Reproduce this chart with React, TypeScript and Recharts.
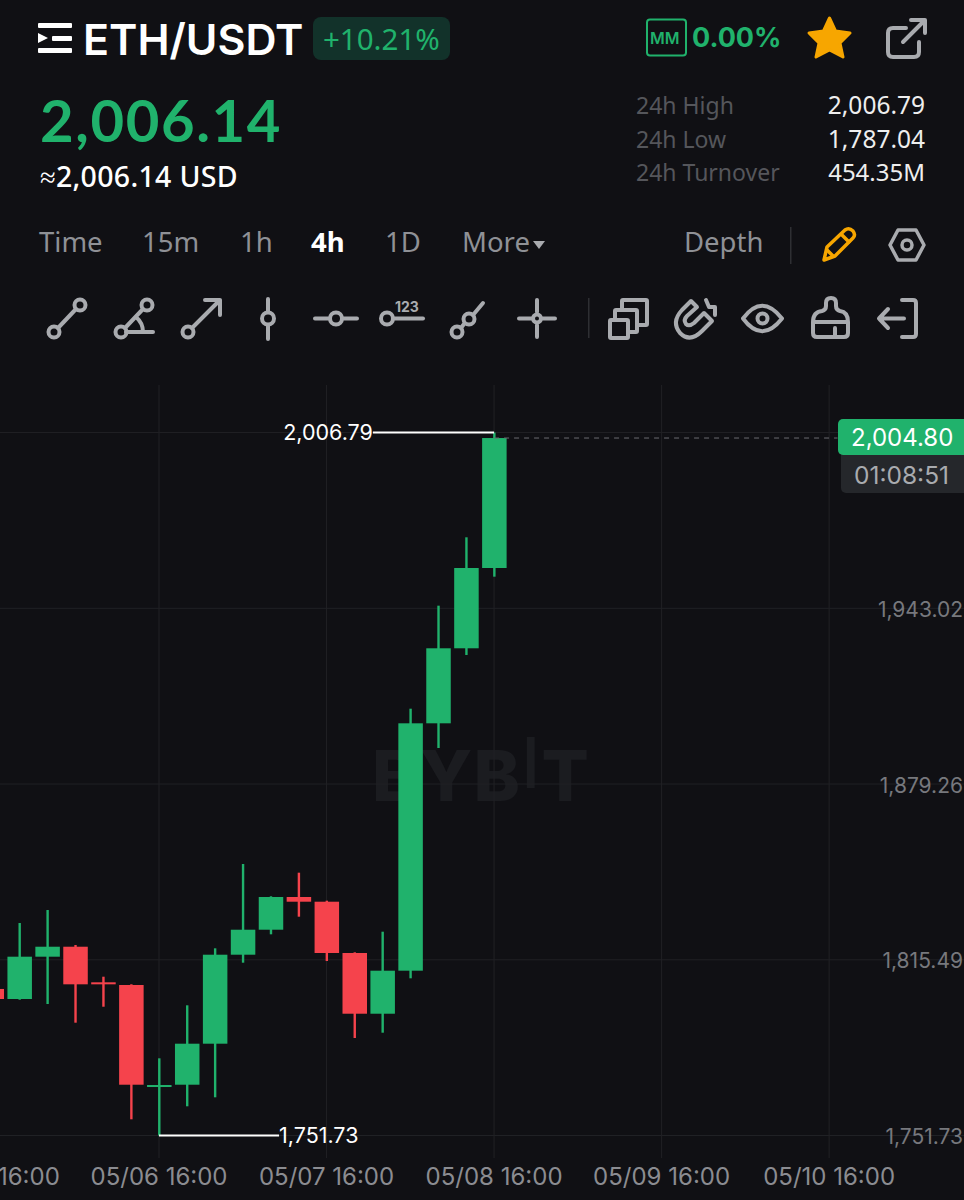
import { ComposedChart, Bar, XAxis, YAxis, CartesianGrid, ReferenceLine, ReferenceDot } from 'recharts';

// one candle every 4h, the first one is 05/05 16:00
const opens = [1804.9, 1801.26, 1816.61, 1820.23, 1807.32, 1806.34, 1769.33, 1770.16, 1785.04, 1817.33, 1826.4, 1838.27, 1836.56, 1817.95, 1795.92, 1811.53, 1901.29, 1928.51, 1957.64];
const closes = [1801.26, 1816.61, 1820.23, 1806.59, 1806.59, 1770.16, 1770.05, 1785.04, 1817.33, 1826.4, 1838.27, 1836.56, 1817.95, 1795.92, 1811.53, 1901.29, 1928.51, 1957.64, 2004.8];
const highs = [1806.2, 1828.83, 1833.55, 1820.85, 1809.35, 1806.6, 1779.74, 1798.97, 1819.65, 1850.24, 1838.53, 1847.09, 1836.93, 1818.2, 1825.68, 1906.59, 1943.97, 1968.78, 2006.79];
const lows = [1799.8, 1801.0, 1799.44, 1792.66, 1798.46, 1757.61, 1751.73, 1762.33, 1765.59, 1814.43, 1824.73, 1831.12, 1815.05, 1787.11, 1789.03, 1808.77, 1892.33, 1926.08, 1954.49];

const priceTicks = [1751.73, 1815.49, 1879.26, 1943.02, 2006.79];
const timeTicks = [0, 6, 12, 18, 24, 30];
const timeLabels = ['05/05 16:00', '05/06 16:00', '05/07 16:00', '05/08 16:00', '05/09 16:00', '05/10 16:00'];

const candles = opens.map((open, i) => ({
  i,
  open,
  close: closes[i],
  high: highs[i],
  low: lows[i],
  range: [lows[i], highs[i]],
}));

const BG = '#101014';
const GREEN = '#20b26c';
const RED = '#f5434c';
const ICON = '#a9abaf';
const GRID = '#202125';

const Candle = (props: any) => {
  const { x, y, width, height, payload } = props;
  const top = Math.min(y, y + height);
  const k = Math.abs(height) / (payload.high - payload.low);
  const bodyTop = top + (payload.high - Math.max(payload.open, payload.close)) * k;
  const bodyH = Math.max(Math.abs(payload.open - payload.close) * k, 2);
  const color = payload.close >= payload.open ? GREEN : RED;
  return (
    <g>
      <rect x={x + width / 2 - 1.2} y={top} width={2.4} height={Math.abs(height)} fill={color} />
      <rect x={x} y={bodyTop} width={width} height={bodyH} fill={color} />
    </g>
  );
};

const PriceTick = (props: any) => {
  const { x, y, payload } = props;
  if (payload.value === 2006.79) return null;
  return (
    <text x={x + 7} y={y + 8.5} textAnchor="end" fill="#77787d" fontSize={21} fontFamily="Inter">
      {payload.value.toLocaleString('en-US', { minimumFractionDigits: 2 })}
    </text>
  );
};

const label = (x: number, y: number, text: string, size: number, color: string, extra: any = {}) => (
  <div
    style={{
      position: 'absolute',
      left: x,
      top: y,
      transform: 'translateY(-50%)',
      fontSize: size,
      color,
      lineHeight: 1,
      whiteSpace: 'nowrap',
      fontFamily: 'Inter',
      ...extra,
    }}
  >
    {text}
  </div>
);

const Icons = () => (
  <svg width={964} height={385} style={{ position: 'absolute', left: 0, top: 0 }}>
    {/* menu */}
    <g fill="#fff">
      <rect x={38} y={23} width={34} height={5} rx={1} />
      <rect x={52} y={36} width={20} height={5} rx={1} />
      <rect x={38} y={48} width={34} height={5} rx={1} />
      <path d="M38 33 L48 38 L38 43 Z" />
    </g>
    <rect x={647} y={19.5} width={39} height={36} rx={3} fill="none" stroke={GREEN} strokeWidth={2} />
    <path d="M829.5 18 L835.5 31 L850 33 L840 43 L843 57 L829.5 50 L816 57 L819 43 L809 33 L823.5 31 Z" fill="#f7a600" stroke="#f7a600" strokeWidth={3} strokeLinejoin="round" />
    {/* share */}
    <g fill="none" stroke={ICON} strokeWidth={4} strokeLinecap="round" strokeLinejoin="round">
      <path d="M906 28 H893 Q888 28 888 33 V52 Q888 57 893 57 H914 Q919 57 919 52 V42" />
      <path d="M903 42 L924 21 M911 20 H925 V33" />
    </g>
    <path d="M533 241 H545 L539 249 Z" fill={ICON} />
    <rect x={790} y={227} width={1.5} height={37} fill="#2e2f33" />
    {/* pencil */}
    <g fill="none" stroke="#f7a600" strokeWidth={3.5} strokeLinejoin="round">
      <path d="M824 260 L827 247 L845 230 Q849 227 853 231 Q856 235 853 238 L835 256 Z" />
      <path d="M841 234 L850 243 M827 250 L833 256" />
    </g>
    {/* settings */}
    <g fill="none" stroke={ICON} strokeWidth={3.5} strokeLinejoin="round">
      <path d="M898 230 H916 L924 245 L916 260 H898 L890 245 Z" />
      <circle cx={907} cy={245} r={5} />
    </g>
    {/* drawing tools */}
    <g fill="none" stroke={ICON} strokeWidth={4} strokeLinecap="round" strokeLinejoin="round">
      <path d="M58 328 L76 309" />
      <circle cx={54} cy={332} r={5.5} />
      <circle cx={80} cy={305} r={5.5} />

      <path d="M125 328 L143 309 M126 332 H153 M136 317 Q143 323 143 332" />
      <circle cx={121} cy={332} r={5.5} />
      <circle cx={147} cy={305} r={5.5} />

      <path d="M192 328 L220 300 M205 300 H220 V315" />
      <circle cx={188} cy={332} r={5.5} />

      <path d="M268 299 V312 M268 325 V339" />
      <circle cx={268} cy={318.5} r={6} />

      <path d="M315 318.5 H330 M342 318.5 H357" />
      <circle cx={336} cy={318.5} r={6} />

      <path d="M393 318.5 H423" />
      <circle cx={387} cy={318.5} r={6} />

      <path d="M461 328 L464 324 M473 315 L483 303" />
      <circle cx={457} cy={332} r={5.5} />
      <circle cx={469} cy={319} r={5.5} />

      <path d="M537 300 V312 M537 325 V337 M519 318.5 H531 M543 318.5 H555" />
      <circle cx={537} cy={318.5} r={4} />

      <rect x={622} y={300} width={25} height={25} rx={1} fill={BG} />
      <rect x={615} y={310} width={22} height={22} rx={1} fill={BG} />
      <rect x={610} y={320} width={18} height={18} rx={1} fill={BG} />

      <path d="M691 301 L682 310 Q671 322 680 333 Q690 343 702 331 L712 321 L704 313 L694 323 Q689 327 686 324 Q683 320 687 316 L697 307 Z" />
      <path d="M706 300 L709 307 L715 307 L715 315" />

      <path d="M743 318.5 Q762 293 782 318.5 Q762 344 743 318.5 Z" />
      <circle cx={762.5} cy={318.5} r={5} />

      <path d="M813 322 Q813 312 822 311 Q826 310 826 306 V303 Q826 298 831 298 Q836 298 836 303 V306 Q836 310 840 311 Q848 312 848 322 V333 Q848 337 844 337 H817 Q813 337 813 333 Z M813 322 H848 M835 337 V328" />

      <path d="M902 300 H913 Q916 300 916 303 V334 Q916 337 913 337 H902 M904 318.5 H879 M888 309 L879 318.5 L888 328" />
    </g>
    <rect x={588} y={298} width={1.5} height={40} fill="#2e2f33" />
  </svg>
);

export default function App() {
  return (
    <div style={{ position: 'absolute', left: 0, top: 0, width: 964, height: 1200, background: BG, overflow: 'hidden' }}>
      {/* watermark sits under the chart */}
      <div style={{ position: 'absolute', left: 372, top: 738, fontFamily: 'Inter', fontWeight: 800, fontSize: 70, lineHeight: '76px', color: '#1b1c20', letterSpacing: 1.2 }}>
        BYB<span style={{ position: 'relative', top: -13, fontWeight: 500 }}>I</span>T
      </div>

      <div style={{ position: 'absolute', left: -100, top: 385 }}>
        <ComposedChart width={1064} height={815} data={candles} margin={{ top: 0, right: 0, bottom: 0, left: 0 }}>
          <CartesianGrid stroke={GRID} strokeWidth={1} syncWithTicks />
          <XAxis
            dataKey="i"
            type="number"
            domain={[-3.276, 34.83]}
            ticks={timeTicks}
            interval={0}
            allowDataOverflow
            height={42}
            axisLine={false}
            tickLine={false}
            tickMargin={4}
            tick={{ fill: '#8b8c91', fontSize: 24, fontFamily: 'Inter' }}
            tickFormatter={(v: number) => timeLabels[timeTicks.indexOf(v)]}
          />
          <YAxis
            type="number"
            orientation="right"
            mirror
            width={1}
            domain={[1743.57, 2024.04]}
            ticks={priceTicks}
            interval={0}
            allowDataOverflow
            axisLine={false}
            tickLine={false}
            tick={<PriceTick />}
          />
          <Bar dataKey="range" barSize={24.5} shape={<Candle />} isAnimationActive={false} />
          <ReferenceLine segment={[{ x: 18, y: 2004.8 }, { x: 30.3, y: 2004.8 }]} stroke="#6a6b70" strokeDasharray="5 5" strokeWidth={1} />
          <ReferenceLine segment={[{ x: 13.66, y: 2006.79 }, { x: 18, y: 2006.79 }]} stroke="#fff" strokeWidth={2} />
          <ReferenceLine segment={[{ x: 6, y: 1751.73 }, { x: 10.3, y: 1751.73 }]} stroke="#fff" strokeWidth={2} />
          <ReferenceDot x={13.66} y={2006.79} r={0} stroke="none" label={{ value: '2,006.79', position: 'left', offset: 0, fill: '#fff', fontSize: 21.5, fontFamily: 'Inter' }} />
          <ReferenceDot x={10.3} y={1751.73} r={0} stroke="none" label={{ value: '1,751.73', position: 'right', offset: 0, fill: '#fff', fontSize: 21.5, fontFamily: 'Inter' }} />
        </ComposedChart>
      </div>

      {/* last price tag */}
      <div style={{ position: 'absolute', left: 841, top: 450, width: 123, height: 43, background: '#25272b', borderRadius: '0 0 0 5px' }} />
      <div style={{ position: 'absolute', left: 838, top: 419, width: 126, height: 36, background: GREEN, borderRadius: '5px 0 0 5px' }} />
      {label(851, 438, '2,004.80', 24, '#fff')}
      {label(854, 475, '01:08:51', 24.5, '#a9abaf')}

      <Icons />

      {/* header */}
      {label(83, 39, 'ETH/USDT', 43, '#fff', { fontWeight: 600 })}
      <div style={{ position: 'absolute', left: 313, top: 17, width: 137, height: 43, background: '#12322a', borderRadius: 8 }} />
      {label(323, 39, '+10.21%', 29.5, GREEN, { fontFamily: 'Noto Sans' })}
      {label(650, 38, 'MM', 16, GREEN, { fontWeight: 600 })}
      {label(692, 37, '0.00%', 27, GREEN, { fontWeight: 700 })}

      {label(40, 120, '2,006.14', 58, GREEN, { fontFamily: 'Lato', fontWeight: 700, letterSpacing: 1.6 })}
      {label(40, 176, '≈2,006.14 USD', 28.5, '#fff', { fontFamily: 'Noto Sans', fontWeight: 500, letterSpacing: 0.3 })}

      {label(636, 105, '24h High', 23, '#55565b', { fontFamily: 'Noto Sans' })}
      {label(636, 139, '24h Low', 23, '#55565b', { fontFamily: 'Noto Sans' })}
      {label(636, 172, '24h Turnover', 23, '#55565b', { fontFamily: 'Noto Sans' })}
      {label(764, 105, '2,006.79', 24.5, '#eeeeee', { fontFamily: 'Noto Sans', width: 161, textAlign: 'right' })}
      {label(764, 139, '1,787.04', 24.5, '#eeeeee', { fontFamily: 'Noto Sans', width: 161, textAlign: 'right' })}
      {label(764, 172, '454.35M', 24, '#eeeeee', { fontFamily: 'Noto Sans', width: 161, textAlign: 'right' })}

      {label(39, 242, 'Time', 27.5, '#8f9196', { fontFamily: 'Noto Sans' })}
      {label(142, 242, '15m', 27.5, '#8f9196', { fontFamily: 'Noto Sans' })}
      {label(240, 242, '1h', 27.5, '#8f9196', { fontFamily: 'Noto Sans' })}
      {label(311, 242, '4h', 27.5, '#fff', { fontFamily: 'Noto Sans', fontWeight: 700 })}
      {label(385, 242, '1D', 27.5, '#8f9196', { fontFamily: 'Noto Sans' })}
      {label(462, 242, 'More', 27.5, '#8f9196', { fontFamily: 'Noto Sans' })}
      {label(684, 242, 'Depth', 27.5, '#8f9196', { fontFamily: 'Noto Sans' })}
      {label(395, 307, '123', 14, ICON, { fontWeight: 700 })}
    </div>
  );
}
